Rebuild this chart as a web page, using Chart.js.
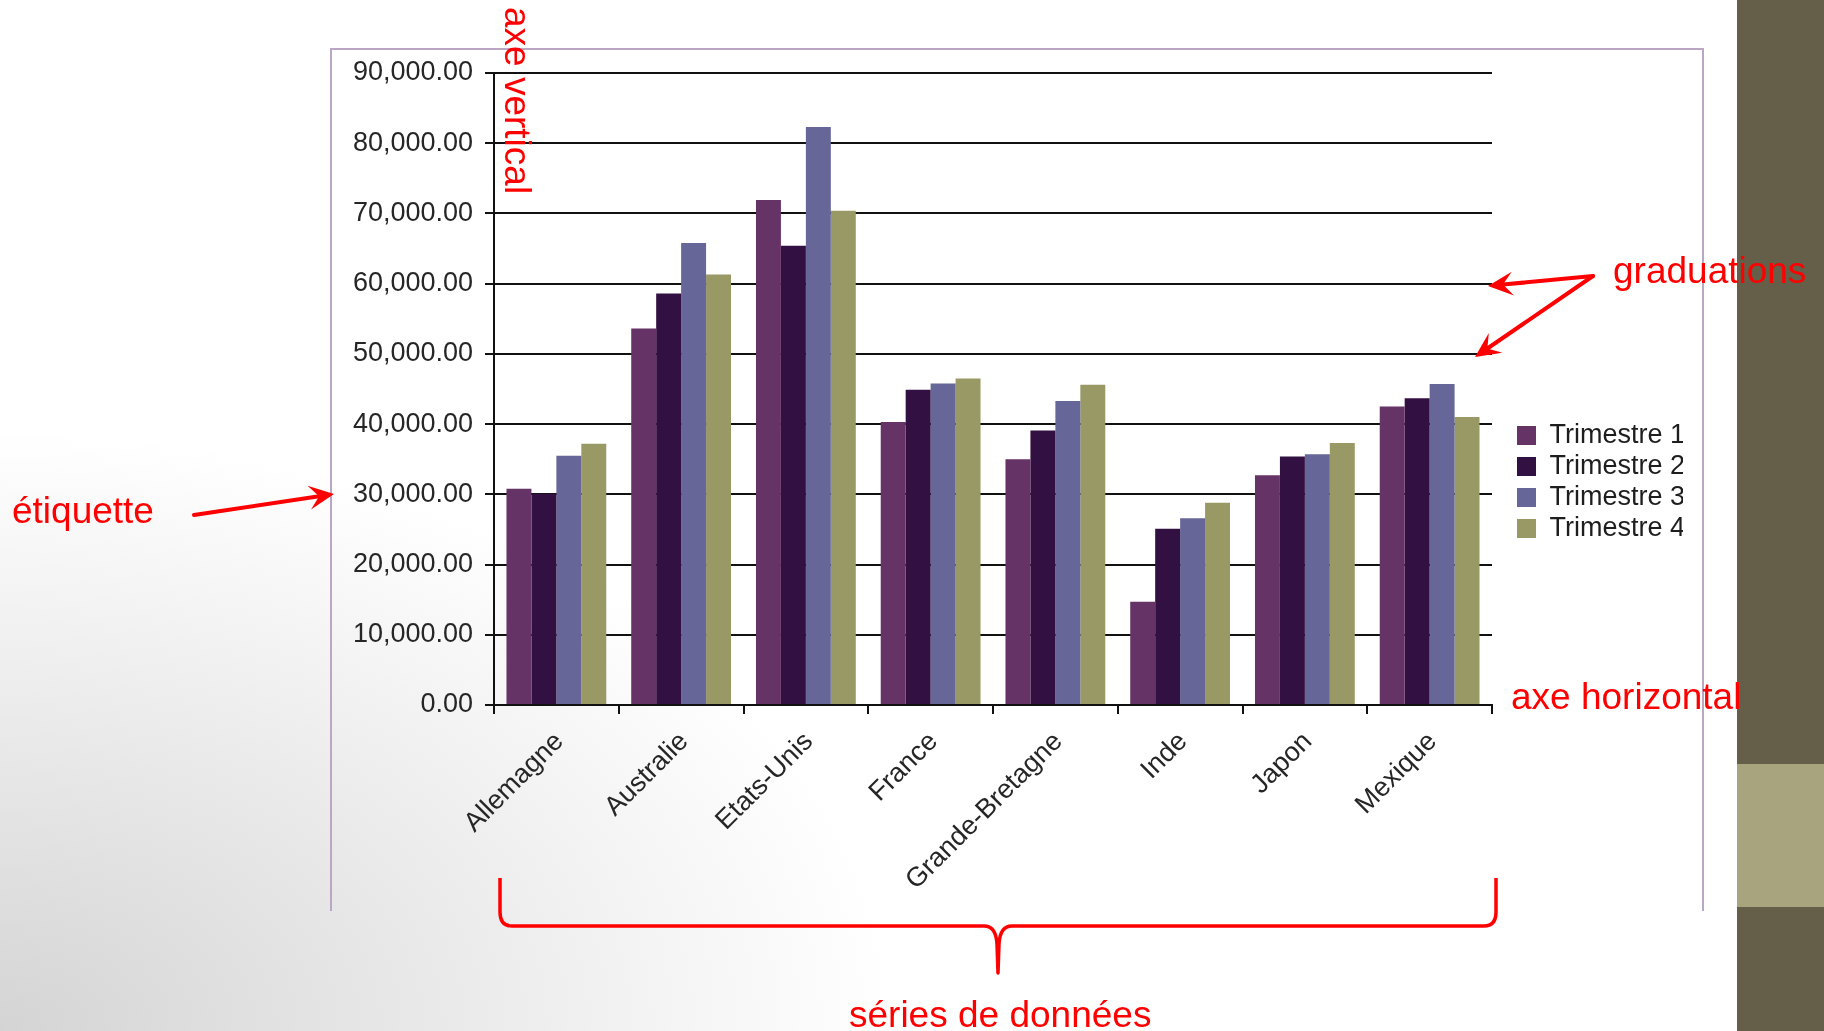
<!DOCTYPE html>
<html lang="fr">
<head>
<meta charset="utf-8">
<title>Graphique</title>
<script src="https://cdn.jsdelivr.net/npm/chart.js@4.4.1/dist/chart.umd.min.js"></script>
<style>
html,body{margin:0;padding:0;}
body{width:1824px;height:1031px;position:relative;overflow:hidden;font-family:"Liberation Sans",Arial,sans-serif;
  background:radial-gradient(ellipse 900px 600px at 0% 100%,#d4d4d4 0%,#ffffff 100%);}
#band{position:absolute;left:1737px;top:0;width:87px;height:1031px;background:#655e48;}
#band2{position:absolute;left:1737px;top:764px;width:87px;height:143px;background:#a8a57e;}
#frame{position:absolute;left:330px;top:48px;width:1374px;height:863px;border:2px solid #bca6c6;border-bottom:none;box-sizing:border-box;}
#wrap{position:absolute;left:0;top:0;width:1824px;height:1031px;}
#notes{position:absolute;left:0;top:0;width:1824px;height:1031px;}
.lbl{position:absolute;color:#ff0000;font-size:37px;line-height:1;white-space:nowrap;}
</style>
</head>
<body>
<div id="band"></div>
<div id="band2"></div>
<div id="frame"></div>
<div id="wrap"><canvas id="c" width="1824" height="1031"></canvas></div>
<svg id="notes" width="1824" height="1031" xmlns="http://www.w3.org/2000/svg"></svg>
<div class="lbl" style="left:536px;top:7px;transform-origin:0 0;transform:rotate(90deg);">axe vertical</div>
<div class="lbl" style="left:1613px;top:252px;">graduations</div>
<div class="lbl" style="left:12px;top:492px;">étiquette</div>
<div class="lbl" style="left:1511px;top:678px;">axe horizontal</div>
<div class="lbl" style="left:849px;top:996px;">séries de données</div>
<script>
// ---- data ----
const categories = ['Allemagne','Australie','Etats-Unis','France','Grande-Bretagne','Inde','Japon','Mexique'];
const seriesNames = ['Trimestre 1','Trimestre 2','Trimestre 3','Trimestre 4'];
const trimestre1 = [30800, 53600, 71900, 40300, 35000, 14700, 32700, 42500];
const trimestre2 = [30100, 58600, 65400, 44900, 39100, 25100, 35400, 43700];
const trimestre3 = [35500, 65800, 82300, 45800, 43300, 26600, 35700, 45700];
const trimestre4 = [37200, 61300, 70400, 46500, 45600, 28800, 37300, 41000];
const yTickLabels = ['0.00','10,000.00','20,000.00','30,000.00','40,000.00','50,000.00','60,000.00','70,000.00','80,000.00','90,000.00'];
const seriesColors = ['#663366','#331042','#666699','#999966'];

Chart.defaults.font.family = '"Liberation Sans", Arial, sans-serif';
Chart.defaults.color = '#262626';

const legendPlace = {
  id: 'legendPlace',
  afterLayout(chart) {
    const lg = chart.legend;
    if (!lg) return;
    const w = lg.width;
    lg.left = chart.chartArea.right + 21;
    lg.right = lg.left + w;
    lg.top = 418;
    lg.bottom = lg.top + 200;
  }
};

const allSeries = [trimestre1, trimestre2, trimestre3, trimestre4];
new Chart(document.getElementById('c'), {
  type: 'bar',
  data: {
    labels: categories,
    datasets: allSeries.map((d, i) => ({
      label: seriesNames[i],
      data: d,
      backgroundColor: seriesColors[i],
      borderWidth: 0,
      categoryPercentage: 0.8,
      barPercentage: 1.0
    }))
  },
  options: {
    responsive: false,
    animation: false,
    layout: { padding: { left: 330, top: 73, right: 162, bottom: 126 } },
    plugins: {
      tooltip: { enabled: false },
      title: { display: false },
      legend: {
        position: 'right',
        align: 'start',
        maxWidth: 170,
        labels: {
          boxWidth: 19, boxHeight: 19, padding: 4,
          font: { size: 27 }, color: '#1e1e1e'
        }
      }
    },
    scales: {
      x: {
        grid: { display: true, drawOnChartArea: false, drawTicks: true, tickLength: 9, color: '#111', lineWidth: 2, offset: true },
        border: { display: true, color: '#111', width: 2 },
        ticks: { minRotation: 45, maxRotation: 45, autoSkip: false, padding: 12, labelOffset: 3, font: { size: 27 }, color: '#262626' },
        afterFit(s) { s.height = 200; }
      },
      y: {
        min: 0, max: 90000,
        grid: { color: '#111', lineWidth: 2, tickLength: 9, drawTicks: true },
        border: { display: true, color: '#111', width: 2 },
        ticks: { stepSize: 10000, padding: 12, font: { size: 27 }, color: '#262626',
          callback: (v, i) => yTickLabels[i] },
        afterFit(s) { s.width = 164; }
      }
    }
  },
  plugins: [legendPlace]
});

// ---- red annotations (arrows and brace) ----
const svg = document.getElementById('notes');
const NS = 'http://www.w3.org/2000/svg';
function el(name, attrs) {
  const e = document.createElementNS(NS, name);
  for (const k in attrs) e.setAttribute(k, attrs[k]);
  svg.appendChild(e);
  return e;
}
function arrow(x1, y1, x2, y2) {
  const dx = x2 - x1, dy = y2 - y1, L = Math.hypot(dx, dy);
  const ux = dx / L, uy = dy / L, px = -uy, py = ux;
  const hl = 25, hw = 12, nl = 15;
  const nx = x2 - ux * nl, ny = y2 - uy * nl;
  el('line', { x1, y1, x2: nx, y2: ny, stroke: '#ff0000', 'stroke-width': 4, 'stroke-linecap': 'round' });
  const pts = [
    [x2, y2],
    [x2 - ux * hl + px * hw, y2 - uy * hl + py * hw],
    [nx, ny],
    [x2 - ux * hl - px * hw, y2 - uy * hl - py * hw]
  ].map(p => p.join(',')).join(' ');
  el('polygon', { points: pts, fill: '#ff0000' });
}
arrow(194, 515, 334, 494);
arrow(1593, 276, 1488, 286);
arrow(1593, 276, 1475, 357);
el('path', {
  d: 'M500,878 V912 Q500,926 512,926 H984 Q996,926 997,944 L998,973 L999,944 Q1000,926 1012,926 H1484 Q1496,926 1496,912 V878',
  fill: 'none', stroke: '#ff0000', 'stroke-width': 3.5, 'stroke-linejoin': 'round'
});
</script>
</body>
</html>
